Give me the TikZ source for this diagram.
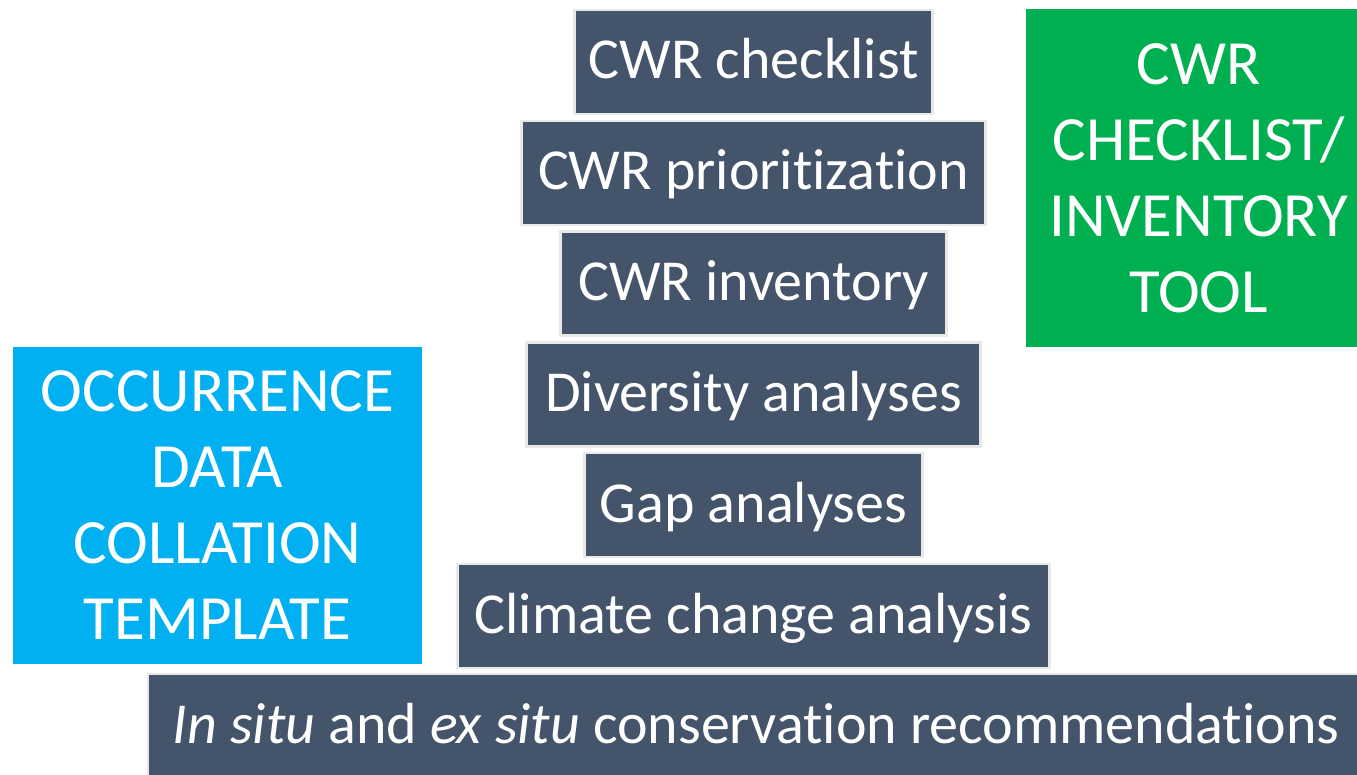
\documentclass[tikz,border=0pt]{standalone}
\usepackage{fontspec}
\setmainfont{Carlito}[RawFeature={-liga;-clig;-dlig}]
\definecolor{slate}{HTML}{44546A}
\definecolor{skyblue}{HTML}{00B0F0}
\definecolor{leafgreen}{HTML}{00B050}
\tikzset{
  stepbox/.style={draw=gray!18, line width=2.5pt, fill=slate, text=white,
    inner sep=0pt, minimum height=104pt, text height=40pt, text depth=6pt,
    font=\fontsize{58}{76}\selectfont},
  toolbox/.style={fill=#1, text=white, inner sep=0pt, align=center,
    font=\fontsize{63}{76}\selectfont}
}

\begin{document}
\begin{tikzpicture}[x=1pt,y=-1pt]
            \useasboundingbox (0,0) rectangle (1357,775);
            % workflow steps:
            \foreach \n/\y/\w/\t in {1/62/358/CWR checklist,
                                     2/173/464/CWR prioritization,
                                     3/283.5/386/CWR inventory,
                                     4/394.5/454/Diversity analyses,
                                     5/505/338/Gap analyses,
                                     6/616/592/Climate change analysis}
                \node[stepbox, minimum width=\w pt] (step\n) at (753.5,\y) {\t};
            \node[stepbox, minimum width=1216pt] (step7) at (756,726)
                {\textit{In situ} and \textit{ex situ} conservation recommendations};
            %tools
            \node[toolbox=leafgreen, minimum width=331pt, minimum height=338pt] (checktool) at (1191.5,178)
                {\hspace*{14pt}CWR\\\hspace*{14pt}CHECKLIST/\\\hspace*{14pt}INVENTORY\\\hspace*{14pt}TOOL};
            \node[toolbox=skyblue, minimum width=409pt, minimum height=317pt] (datatool) at (217.5,505.5)
                {OCCURRENCE\\DATA\\COLLATION\\TEMPLATE};
        \end{tikzpicture}
\end{document}
